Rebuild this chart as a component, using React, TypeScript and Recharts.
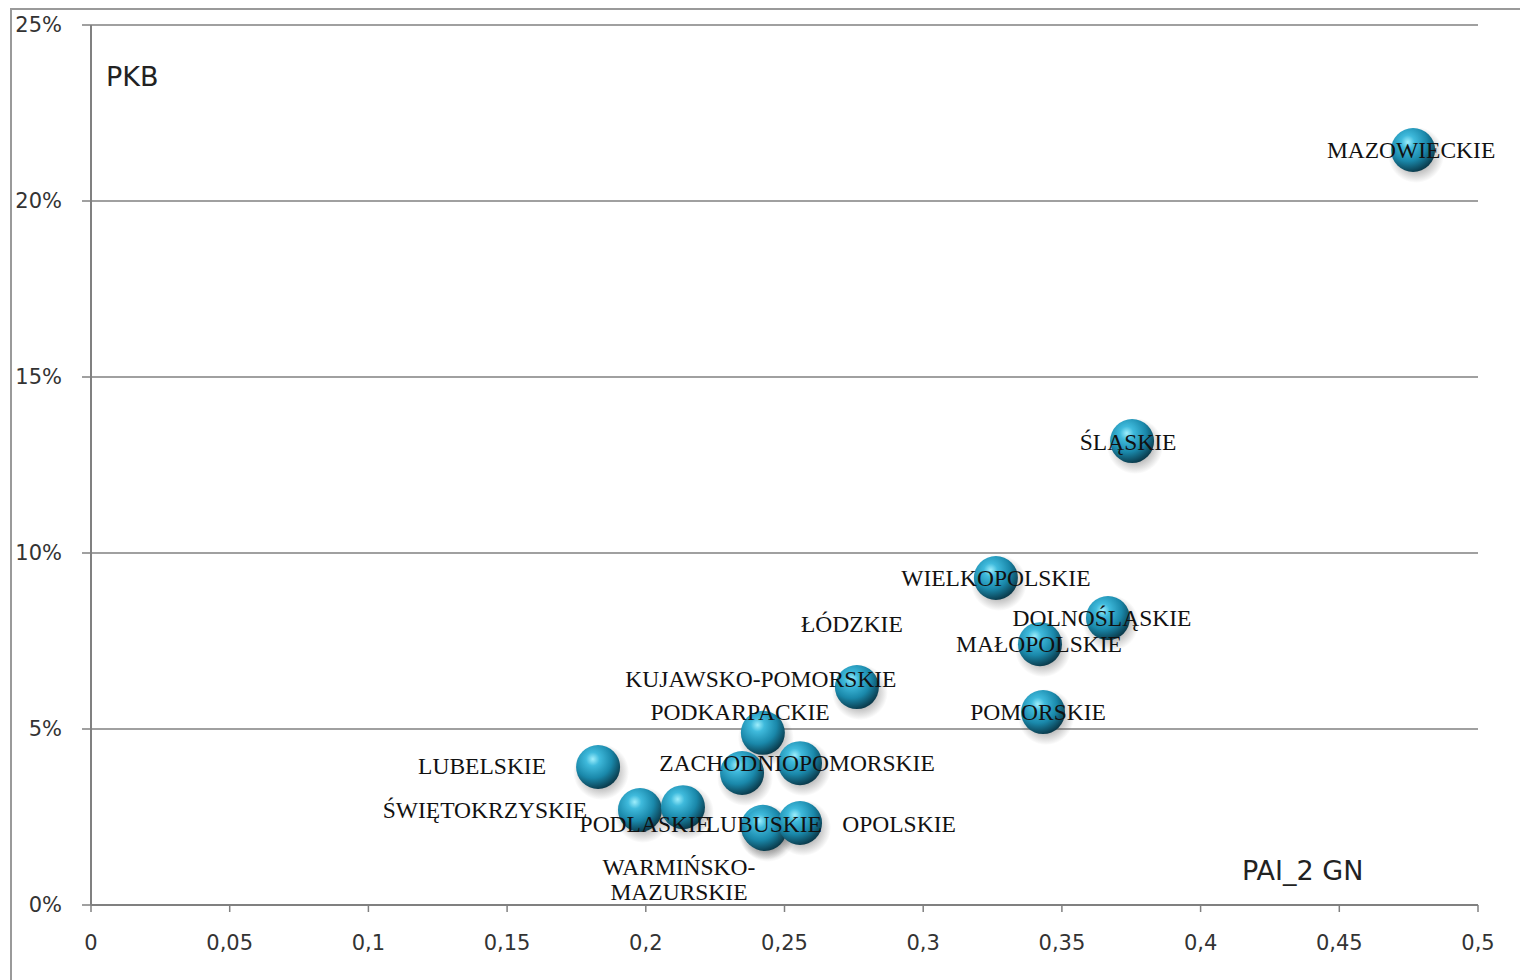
import React from 'react'
import { ScatterChart, Scatter, XAxis, YAxis, CartesianGrid } from 'recharts'

// województwa i wartości
const regions = [
  'MAZOWIECKIE',
  'ŚLĄSKIE',
  'WIELKOPOLSKIE',
  'DOLNOŚLĄSKIE',
  'MAŁOPOLSKIE',
  'POMORSKIE',
  'ŁÓDZKIE',
  'KUJAWSKO-POMORSKIE',
  'ZACHODNIOPOMORSKIE',
  'PODKARPACKIE',
  'LUBELSKIE',
  'ŚWIĘTOKRZYSKIE',
  'WARMIŃSKO-MAZURSKIE',
  'PODLASKIE',
  'LUBUSKIE',
  'OPOLSKIE',
]

// PAI_2 GN
const paiValues = [
  0.4766, 0.3753, 0.3262, 0.3666, 0.3421, 0.3432, 0.2761, 0.2422,
  0.2556, 0.2347, 0.1828, 0.1979, 0.2134, 0.2422, 0.2429, 0.2556,
]

// PKB (% udziału)
const pkbValues = [
  21.45, 13.18, 9.29, 8.15, 7.41, 5.48, 6.19, 4.89,
  4.03, 3.75, 3.92, 2.7, 2.78, 2.22, 2.16, 2.33,
]

const xTicks = [0, 0.05, 0.1, 0.15, 0.2, 0.25, 0.3, 0.35, 0.4, 0.45, 0.5]
const yTicks = [0, 5, 10, 15, 20, 25]

// przesunięcia etykiet względem środka kuli (px)
const labelOffsets: Record<string, [number, number]> = {
  MAZOWIECKIE: [-2, 0],
  'ŚLĄSKIE': [-4, 1],
  WIELKOPOLSKIE: [0, 0],
  'DOLNOŚLĄSKIE': [-6, 0],
  'MAŁOPOLSKIE': [-1, 0],
  POMORSKIE: [-5, 0],
  'ŁÓDZKIE': [-5, -63],
  'KUJAWSKO-POMORSKIE': [-2, -54],
  ZACHODNIOPOMORSKIE: [-3, 0],
  PODKARPACKIE: [-2, -61],
  LUBELSKIE: [-116, -1],
  'ŚWIĘTOKRZYSKIE': [-155, 0],
  'WARMIŃSKO-MAZURSKIE': [-4, 60],
  PODLASKIE: [-118, -3],
  LUBUSKIE: [-1, -5],
  OPOLSKIE: [99, 1],
}

const wrapped: Record<string, string[]> = {
  'WARMIŃSKO-MAZURSKIE': ['WARMIŃSKO-', 'MAZURSKIE'],
}

const data = regions.map((name, i) => ({ name, x: paiValues[i], y: pkbValues[i] }))

const R = 22

const Bubble = (props: any) => {
  const { cx, cy, index } = props
  if (cx == null || cy == null) return null
  const gid = `ball-${index}`
  const sid = `shadow-${index}`
  return (
    <g>
      <defs>
        <radialGradient id={gid} cx="38%" cy="32%" r="70%">
          <stop offset="0%" stopColor="#9eeefc" />
          <stop offset="22%" stopColor="#3fbadc" />
          <stop offset="62%" stopColor="#1a88aa" />
          <stop offset="100%" stopColor="#0a3a4b" />
        </radialGradient>
        <radialGradient id={sid}>
          <stop offset="55%" stopColor="rgba(60,60,60,0.35)" />
          <stop offset="100%" stopColor="rgba(60,60,60,0)" />
        </radialGradient>
      </defs>
      <circle cx={cx + 3} cy={cy + 5} r={R + 6} fill={`url(#${sid})`} />
      <circle cx={cx} cy={cy} r={R} fill={`url(#${gid})`} />
    </g>
  )
}

const RegionLabel = (props: any) => {
  const { cx, cy, payload } = props
  if (cx == null || cy == null) return null
  const name = payload.name as string
  const [dx, dy] = labelOffsets[name] || [0, 0]
  const lines = wrapped[name] || [name]
  return (
    <text
      x={cx + dx}
      y={cy + dy}
      textAnchor="middle"
      fontFamily="'Liberation Serif', 'Times New Roman', serif"
      fontSize={23.5}
      fill="#111"
    >
      {lines.map((line, i) => (
        <tspan key={i} x={cx + dx} dy={i === 0 ? '0.35em' : 25}>
          {line}
        </tspan>
      ))}
    </text>
  )
}

const tickStyle = { fontFamily: "'DejaVu Sans', sans-serif", fontSize: 21, fill: '#333' }

export default function App() {
  return (
    <div style={{ position: 'absolute', left: 0, top: 0, width: 1520, height: 980, background: '#fff', overflow: 'hidden' }}>
      <div
        style={{
          position: 'absolute',
          left: 10,
          top: 8,
          width: 1510,
          height: 972,
          boxSizing: 'border-box',
          borderLeft: '2px solid #9a9a9a',
          borderTop: '2px solid #9a9a9a',
        }}
      />
      <div style={{ position: 'absolute', left: 0, top: 0 }}>
        <ScatterChart width={1520} height={980} margin={{ top: 25, right: 42, bottom: 35, left: 0 }}>
          <CartesianGrid horizontal vertical={false} stroke="#808080" strokeWidth={1.5} />
          <XAxis
            type="number"
            dataKey="x"
            domain={[0, 0.5]}
            ticks={xTicks}
            height={40}
            tickSize={7}
            tickMargin={23}
            tick={tickStyle}
            axisLine={{ stroke: '#808080', strokeWidth: 2 }}
            tickLine={{ stroke: '#808080', strokeWidth: 1.5 }}
            tickFormatter={(v: number) => String(v).replace('.', ',')}
          />
          <YAxis
            type="number"
            dataKey="y"
            domain={[0, 25]}
            ticks={yTicks}
            width={91}
            tickSize={9}
            tickMargin={20}
            tick={tickStyle}
            axisLine={{ stroke: '#808080', strokeWidth: 2 }}
            tickLine={{ stroke: '#808080', strokeWidth: 1.5 }}
            tickFormatter={(v: number) => `${v}%`}
          />
          <Scatter data={data} shape={Bubble} isAnimationActive={false} />
          <Scatter data={data} shape={RegionLabel} isAnimationActive={false} />
        </ScatterChart>
      </div>
      <div
        style={{
          position: 'absolute',
          left: 106,
          top: 63,
          fontFamily: "'DejaVu Sans', sans-serif",
          fontSize: 27,
          lineHeight: '27px',
          color: '#222',
        }}
      >
        PKB
      </div>
      <div
        style={{
          position: 'absolute',
          left: 1242,
          top: 857,
          fontFamily: "'DejaVu Sans', sans-serif",
          fontSize: 27,
          lineHeight: '27px',
          color: '#222',
          whiteSpace: 'nowrap',
        }}
      >
        PAI_2 GN
      </div>
    </div>
  )
}
